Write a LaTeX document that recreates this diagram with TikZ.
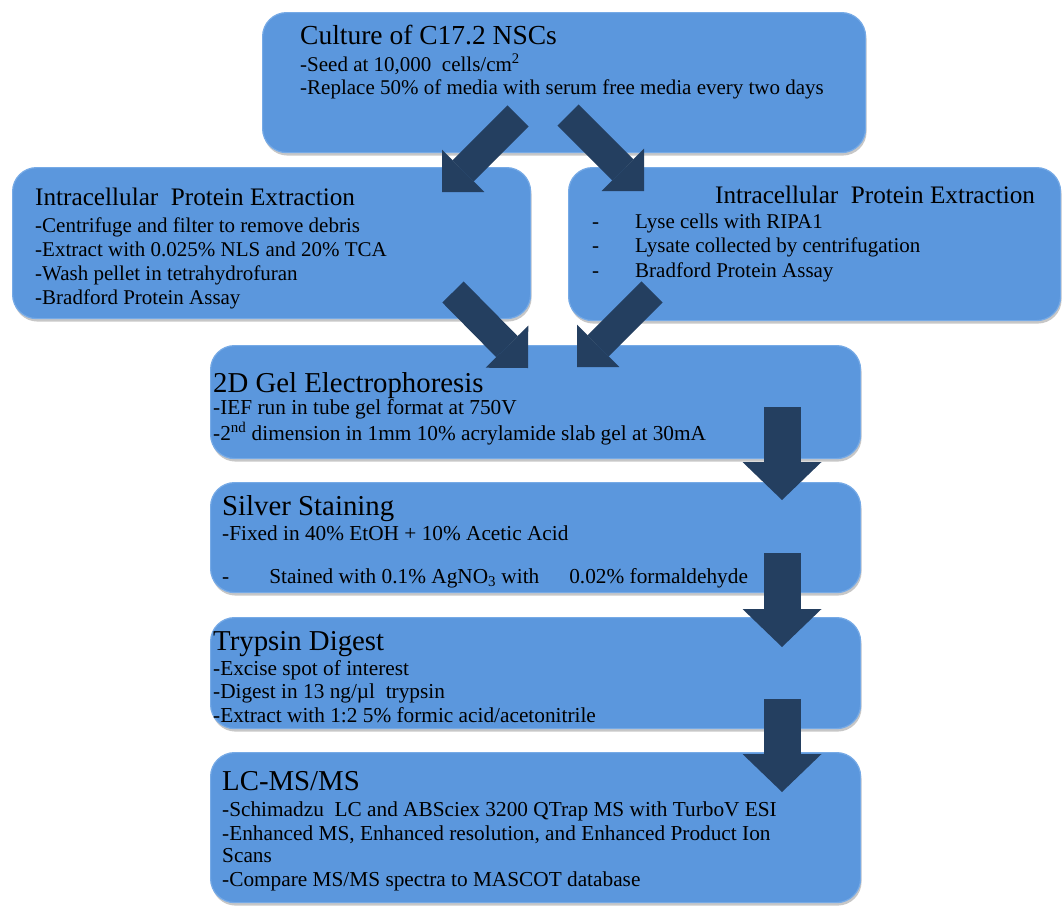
\documentclass[tikz,border=0pt]{standalone}
\usepackage{fontspec}
\setmainfont{Liberation Serif}
\usetikzlibrary{arrows.meta, positioning, shadows}
\definecolor{boxblue}{HTML}{5B97DD}
\definecolor{boxedge}{HTML}{76AAE6}
\definecolor{arrownavy}{HTML}{243F60}

\newcommand{\bigtitle}[1]{{\fontsize{27.5}{30}\selectfont #1}}
\newcommand{\lowtitle}[1]{{\fontsize{28.8}{30}\selectfont #1}}
\newcommand{\midtitle}[1]{{\fontsize{25.2}{28}\selectfont #1}}

\begin{document}
\begin{tikzpicture}[
  x=1pt, y=-1pt,
  % rounded step boxes
  stepbox/.style 2 args={draw=boxedge, line width=1.2pt, fill=boxblue,
    rounded corners=24pt, minimum width=#1, minimum height=#2,
    anchor=north west, inner sep=0pt,
    drop shadow={opacity=0.4, fill=black!55, shadow xshift=1pt, shadow yshift=-3pt}},
  % text in the boxes (argument = baseline skip)
  boxtext/.style={anchor=base west, inner sep=0pt, align=left,
    font=\fontsize{21}{#1}\selectfont},
  lowtext/.style={anchor=base west, inner sep=0pt, align=left,
    font=\fontsize{21.3}{#1}\selectfont},
  % block arrows
  diagarr/.style={arrownavy, line width=30pt,
    -{Triangle[length=30pt, width=60pt, line width=0pt]}},
  downarr/.style={arrownavy, line width=37pt,
    -{Triangle[length=38pt, width=79pt, line width=0pt]}},
]
\useasboundingbox (0,0) rectangle (1062,905);

% ---- boxes ----
\node[stepbox={603pt}{140pt}] (culture) at (262,12) {};
\node[stepbox={518pt}{151pt}] (extractL) at (12,167) {};
\node[stepbox={492pt}{153pt}] (extractR) at (568,167) {};
\node[stepbox={650pt}{113pt}] (gel) at (210,345) {};
\node[stepbox={650pt}{110pt}] (silver) at (210,482) {};
\node[stepbox={650pt}{111pt}] (trypsin) at (210,617) {};
\node[stepbox={650pt}{150pt}] (lcms) at (210,752) {};

% ---- texts ----
\node[boxtext=23pt] (culturetxt) at ([shift={(38,32)}]culture.north west) {%
  \begin{tabular}[t]{@{}l@{}}
  \bigtitle{Culture of C17.2 NSCs}\\[3pt]
  -Seed at 10,000\ \ cells/cm\textsuperscript{2}\\
  -Replace 50\% of media with serum free media every two days
  \end{tabular}};

\node[boxtext=24pt] (extractLtxt) at ([shift={(23,38)}]extractL.north west) {%
  \begin{tabular}[t]{@{}l@{}}
  \midtitle{Intracellular\ \ Protein Extraction}\\[3pt]
  -Centrifuge and filter to remove debris\\
  -Extract with 0.025\% NLS and 20\% TCA\\
  -Wash pellet in tetrahydrofuran\\
  -Bradford Protein Assay
  \end{tabular}};

\node[boxtext=24pt] (extractRttl) at ([shift={(147,36)}]extractR.north west)
  {\midtitle{Intracellular\ \ Protein Extraction}};
\node[boxtext=24.5pt] (extractRtxt) at ([shift={(24,61)}]extractR.north west) {%
  \begin{tabular}[t]{@{}p{43pt}@{}l@{}}
  - & Lyse cells with RIPA1\\
  - & Lysate collected by centrifugation\\
  - & Bradford Protein Assay
  \end{tabular}};

\node[lowtext=26pt] (geltxt) at ([shift={(3,47)}]gel.north west) {%
  \begin{tabular}[t]{@{}l@{}}
  \lowtitle{2D Gel Electrophoresis}\\[-4pt]
  -IEF run in tube gel format at 750V\\
  -2\textsuperscript{nd} dimension in 1mm 10\% acrylamide slab gel at 30mA
  \end{tabular}};

\node[lowtext=25pt] (silvertxt) at ([shift={(12,33)}]silver.north west) {%
  \begin{tabular}[t]{@{}l@{}}
  \lowtitle{Silver Staining}\\
  -Fixed in 40\% EtOH + 10\% Acetic Acid\\[18pt]
  -\hspace{40pt}Stained with 0.1\% AgNO\textsubscript{3} with\hspace{30pt}0.02\% formaldehyde
  \end{tabular}};

\node[lowtext=23.5pt] (trypsintxt) at ([shift={(3,33)}]trypsin.north west) {%
  \begin{tabular}[t]{@{}l@{}}
  \lowtitle{Trypsin Digest}\\[1.5pt]
  -Excise spot of interest\\
  -Digest in 13 ng/µl\ \ trypsin\\
  -Extract with 1:2 5\% formic acid/acetonitrile
  \end{tabular}};

\node[lowtext=24pt] (lcmstxt) at ([shift={(12,38)}]lcms.north west) {%
  \begin{tabular}[t]{@{}l@{}}
  \lowtitle{LC-MS/MS}\\[2pt]
  -Schimadzu\ \ LC and ABSciex 3200 QTrap MS with TurboV ESI\\
  -Enhanced MS, Enhanced resolution, and Enhanced Product Ion\\[-2pt]
  Scans\\
  -Compare MS/MS spectra to MASCOT database
  \end{tabular}};

% ---- arrows ----
\draw[diagarr] ([shift={(256,104)}]culture.north west) -- ([shift={(430,25)}]extractL.north west);
\draw[diagarr] ([shift={(306,103)}]culture.north west) -- ([shift={(76,24)}]extractR.north west);
\draw[diagarr] ([shift={(441,125)}]extractL.north west) -- ([shift={(318,23)}]gel.north west);
\draw[diagarr] ([shift={(84,125)}]extractR.north west) -- ([shift={(367,22)}]gel.north west);
\draw[downarr] ([shift={(572,62)}]gel.north west) -- ([shift={(572,18)}]silver.north west);
\draw[downarr] ([shift={(572,71)}]silver.north west) -- ([shift={(572,30)}]trypsin.north west);
\draw[downarr] ([shift={(572,82)}]trypsin.north west) -- ([shift={(572,40)}]lcms.north west);

\end{tikzpicture}
\end{document}
